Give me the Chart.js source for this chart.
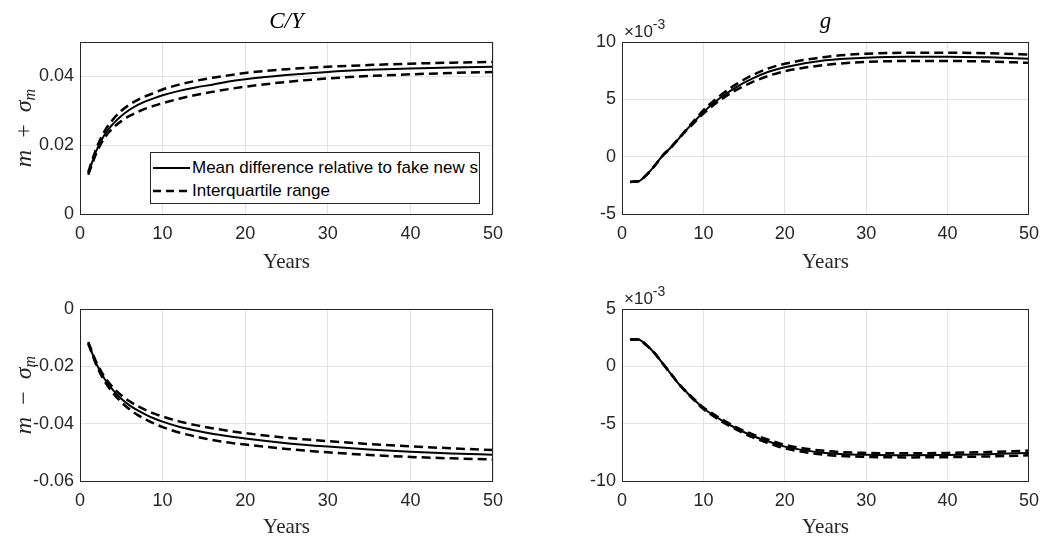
<!DOCTYPE html>
<html>
<head>
<meta charset="utf-8">
<script src="https://cdn.jsdelivr.net/npm/chart.js@4.4.0/dist/chart.umd.min.js"></script>
<style>
  html, body { margin: 0; padding: 0; background: #fff; }
  #page { position: relative; width: 1048px; height: 536px; overflow: hidden; }
  .panel { position: absolute; }
  #legend {
    position: absolute; left: 150px; top: 152px; width: 330px; height: 52px;
    border: 1px solid #262626; background: #fff; box-sizing: border-box;
    font-family: "Liberation Sans", Arial, sans-serif; font-size: 17px; color: #000;
  }
  #legend .row { position: absolute; left: 2px; height: 20px; display: flex; align-items: center; white-space: nowrap; }
  #legend svg { margin-right: 2px; }
</style>
</head>
<body>
<div id="page">
  <canvas class="panel" id="cyUp" width="520" height="275" style="left:0;top:0"></canvas>
  <canvas class="panel" id="gUp" width="528" height="275" style="left:520px;top:0"></canvas>
  <canvas class="panel" id="cyDown" width="520" height="265" style="left:0;top:275px"></canvas>
  <canvas class="panel" id="gDown" width="528" height="265" style="left:520px;top:275px"></canvas>
  <div id="legend">
    <div class="row" style="top:5px"><svg width="37" height="6"><line x1="0" y1="3" x2="37" y2="3" stroke="#000" stroke-width="2"/></svg><span>Mean difference relative to fake new s</span></div>
    <div class="row" style="top:28px"><svg width="37" height="6"><line x1="0" y1="3" x2="37" y2="3" stroke="#000" stroke-width="2.5" stroke-dasharray="8 5"/></svg><span>Interquartile range</span></div>
  </div>
</div>
<script>
// Years on the horizontal axis
var years = [1, 2, 3, 4, 5, 6, 7, 8, 9, 10, 12, 14, 16, 18, 20, 25, 30, 35, 40, 45, 50];
var xTicks = [0, 10, 20, 30, 40, 50];

// C/Y, m + sigma
var cyUpMean = [0.0118, 0.0185, 0.0232, 0.0262, 0.0285, 0.0303, 0.0317, 0.0328, 0.0337, 0.0345, 0.0358, 0.0368, 0.0376, 0.0385, 0.0392, 0.0404, 0.0413, 0.0419, 0.0423, 0.0426, 0.0428];
var cyUpHigh = [0.0122, 0.0192, 0.0242, 0.0275, 0.0300, 0.0318, 0.0332, 0.0343, 0.0352, 0.0362, 0.0376, 0.0387, 0.0396, 0.0403, 0.0410, 0.0421, 0.0428, 0.0433, 0.0437, 0.0440, 0.0442];
var cyUpLow  = [0.0114, 0.0178, 0.0222, 0.0250, 0.0270, 0.0285, 0.0297, 0.0307, 0.0315, 0.0322, 0.0335, 0.0346, 0.0355, 0.0363, 0.0370, 0.0384, 0.0394, 0.0401, 0.0406, 0.0410, 0.0413];
var cyUpTicks = [0, 0.02, 0.04];

// g, m + sigma (x 10^-3)
var gUpMean = [-2.2, -2.15, -1.6, -0.8, 0.1, 0.8, 1.6, 2.4, 3.15, 3.9, 5.1, 6.05, 6.8, 7.4, 7.8, 8.4, 8.63, 8.72, 8.72, 8.66, 8.55];
var gUpHigh = [-2.2, -2.15, -1.6, -0.8, 0.1, 0.8, 1.6, 2.45, 3.25, 4.05, 5.3, 6.3, 7.1, 7.7, 8.1, 8.7, 8.98, 9.06, 9.07, 9.02, 8.9];
var gUpLow  = [-2.2, -2.15, -1.6, -0.8, 0.1, 0.8, 1.6, 2.35, 3.05, 3.75, 4.9, 5.8, 6.5, 7.05, 7.45, 8.0, 8.26, 8.34, 8.34, 8.3, 8.18];
var gUpTicks = [-5, 0, 5, 10];

// C/Y, m - sigma
var cyDownMean = [-0.0118, -0.0192, -0.0245, -0.0283, -0.0313, -0.0336, -0.0354, -0.0369, -0.0382, -0.0393, -0.0411, -0.0424, -0.0435, -0.0444, -0.0452, -0.0468, -0.0480, -0.0490, -0.0498, -0.0504, -0.0508];
var cyDownHigh = [-0.0115, -0.0187, -0.0238, -0.0274, -0.0301, -0.0322, -0.0339, -0.0353, -0.0365, -0.0375, -0.0392, -0.0405, -0.0416, -0.0425, -0.0433, -0.0449, -0.0461, -0.0471, -0.0479, -0.0486, -0.0492];
var cyDownLow  = [-0.0121, -0.0197, -0.0253, -0.0293, -0.0325, -0.0350, -0.0370, -0.0386, -0.0400, -0.0412, -0.0431, -0.0445, -0.0457, -0.0466, -0.0473, -0.0488, -0.0500, -0.0509, -0.0516, -0.0521, -0.0525];
var cyDownTicks = [-0.06, -0.04, -0.02, 0];

// g, m - sigma (x 10^-3)
var gDownMean = [2.35, 2.35, 1.85, 1.15, 0.25, -0.65, -1.55, -2.3, -3.0, -3.65, -4.6, -5.4, -6.05, -6.55, -7.0, -7.55, -7.72, -7.76, -7.73, -7.66, -7.55];
var gDownHigh = [2.35, 2.35, 1.85, 1.15, 0.25, -0.65, -1.55, -2.25, -2.95, -3.58, -4.5, -5.3, -5.92, -6.4, -6.85, -7.38, -7.55, -7.58, -7.55, -7.47, -7.35];
var gDownLow  = [2.35, 2.35, 1.85, 1.15, 0.25, -0.65, -1.55, -2.35, -3.05, -3.72, -4.7, -5.5, -6.18, -6.7, -7.15, -7.72, -7.9, -7.94, -7.92, -7.86, -7.76];
var gDownTicks = [-10, -5, 0, 5];

var axisColor = '#262626';
var gridColor = '#e3e3e3';

// frame, panel title, rotated y label and the x10^-3 exponent
var panelDecor = {
  id: 'panelDecor',
  afterDraw: function(chart, args, opts) {
    var ctx = chart.ctx;
    var a = chart.chartArea;
    ctx.save();
    ctx.strokeStyle = axisColor;
    ctx.lineWidth = 1;
    ctx.strokeRect(Math.round(a.left) + 0.5, Math.round(a.top) + 0.5,
      Math.round(a.right - a.left) - 1, Math.round(a.bottom - a.top));

    if (opts.title) {
      ctx.fillStyle = '#000';
      ctx.font = 'italic 23px "Liberation Serif", serif';
      ctx.textAlign = 'center';
      ctx.textBaseline = 'middle';
      ctx.fillText(opts.title, (a.left + a.right) / 2, 22);
    }

    if (opts.yLabel) {
      ctx.save();
      ctx.translate(25, (a.top + a.bottom) / 2);
      ctx.rotate(-Math.PI / 2);
      ctx.fillStyle = axisColor;
      ctx.textAlign = 'left';
      ctx.textBaseline = 'alphabetic';
      var parts = [
        { t: 'm', f: 'italic 24px "Liberation Serif", serif', dy: 0 },
        { t: '  ' + opts.yLabel + '  ', f: '24px "Liberation Serif", serif', dy: 0 },
        { t: '\u03c3', f: 'italic 24px "Liberation Serif", serif', dy: 0 },
        { t: 'm', f: 'italic 16px "Liberation Serif", serif', dy: 4 }
      ];
      var total = 0;
      parts.forEach(function(p) { ctx.font = p.f; p.w = ctx.measureText(p.t).width; total += p.w; });
      var x = -total / 2;
      parts.forEach(function(p) { ctx.font = p.f; ctx.fillText(p.t, x, 6 + p.dy); x += p.w; });
      ctx.restore();
    }

    if (opts.exponent) {
      ctx.fillStyle = axisColor;
      ctx.textAlign = 'left';
      ctx.textBaseline = 'alphabetic';
      ctx.font = '17px "Liberation Sans", Arial, sans-serif';
      var base = '\u00d710';
      ctx.fillText(base, a.left + 2, a.top - 5);
      var w = ctx.measureText(base).width;
      ctx.font = '14px "Liberation Sans", Arial, sans-serif';
      ctx.fillText('-3', a.left + 2 + w, a.top - 13);
    }
    ctx.restore();
  }
};

function toPoints(values) {
  return values.map(function(v, i) { return { x: years[i], y: v }; });
}

function makePanel(id, mean, high, low, yMin, yMax, yTicks, box) {
  var ctx = document.getElementById(id).getContext('2d');
  var lineBase = { borderColor: '#000', pointRadius: 0, fill: false, cubicInterpolationMode: 'monotone' };
  return new Chart(ctx, {
    type: 'line',
    data: {
      datasets: [
        Object.assign({ label: 'Interquartile range', data: toPoints(high), borderWidth: 2.5, borderDash: [9, 5] }, lineBase),
        Object.assign({ label: 'Interquartile range', data: toPoints(low), borderWidth: 2.5, borderDash: [9, 5] }, lineBase),
        Object.assign({ label: 'Mean difference relative to fake news', data: toPoints(mean), borderWidth: 2 }, lineBase)
      ]
    },
    plugins: [panelDecor],
    options: {
      responsive: false,
      animation: false,
      layout: { padding: { left: 0, right: box.right, top: box.top, bottom: 0 } },
      plugins: {
        legend: { display: false },
        tooltip: { enabled: false },
        panelDecor: { title: box.title, yLabel: box.yLabel, exponent: box.exponent }
      },
      scales: {
        x: {
          type: 'linear',
          min: 0,
          max: 50,
          afterBuildTicks: function(scale) {
            scale.ticks = xTicks.map(function(v) { return { value: v }; });
          },
          afterFit: function(scale) { scale.height = box.xHeight; },
          grid: { color: gridColor, drawTicks: false },
          border: { display: false },
          ticks: {
            padding: 9,
            color: axisColor,
            font: { family: '"Liberation Sans", Arial, sans-serif', size: 18 },
            maxRotation: 0,
            callback: function(v) { return String(v); }
          },
          title: {
            display: true,
            text: 'Years',
            color: axisColor,
            padding: { top: 0, bottom: 0 },
            font: { family: '"Liberation Serif", serif', size: 21 }
          }
        },
        y: {
          type: 'linear',
          min: yMin,
          max: yMax,
          afterBuildTicks: function(scale) {
            scale.ticks = yTicks.map(function(v) { return { value: v }; });
          },
          afterFit: function(scale) { scale.width = box.yWidth; },
          grid: { color: gridColor, drawTicks: false },
          border: { display: false },
          ticks: {
            padding: 6,
            color: axisColor,
            font: { family: '"Liberation Sans", Arial, sans-serif', size: 18 },
            callback: function(v) { return String(v); }
          }
        }
      }
    }
  });
}

makePanel('cyUp', cyUpMean, cyUpHigh, cyUpLow, 0, 0.05, cyUpTicks,
  { right: 27, top: 42, xHeight: 61, yWidth: 80, title: 'C/Y', yLabel: '+', exponent: false });
makePanel('gUp', gUpMean, gUpHigh, gUpLow, -5, 10, gUpTicks,
  { right: 17, top: 42, xHeight: 61, yWidth: 102, title: 'g', yLabel: null, exponent: true });
makePanel('cyDown', cyDownMean, cyDownHigh, cyDownLow, -0.06, 0, cyDownTicks,
  { right: 27, top: 34, xHeight: 59, yWidth: 80, title: null, yLabel: '\u2212', exponent: false });
makePanel('gDown', gDownMean, gDownHigh, gDownLow, -10, 5, gDownTicks,
  { right: 17, top: 34, xHeight: 59, yWidth: 102, title: null, yLabel: null, exponent: true });
</script>
</body>
</html>
